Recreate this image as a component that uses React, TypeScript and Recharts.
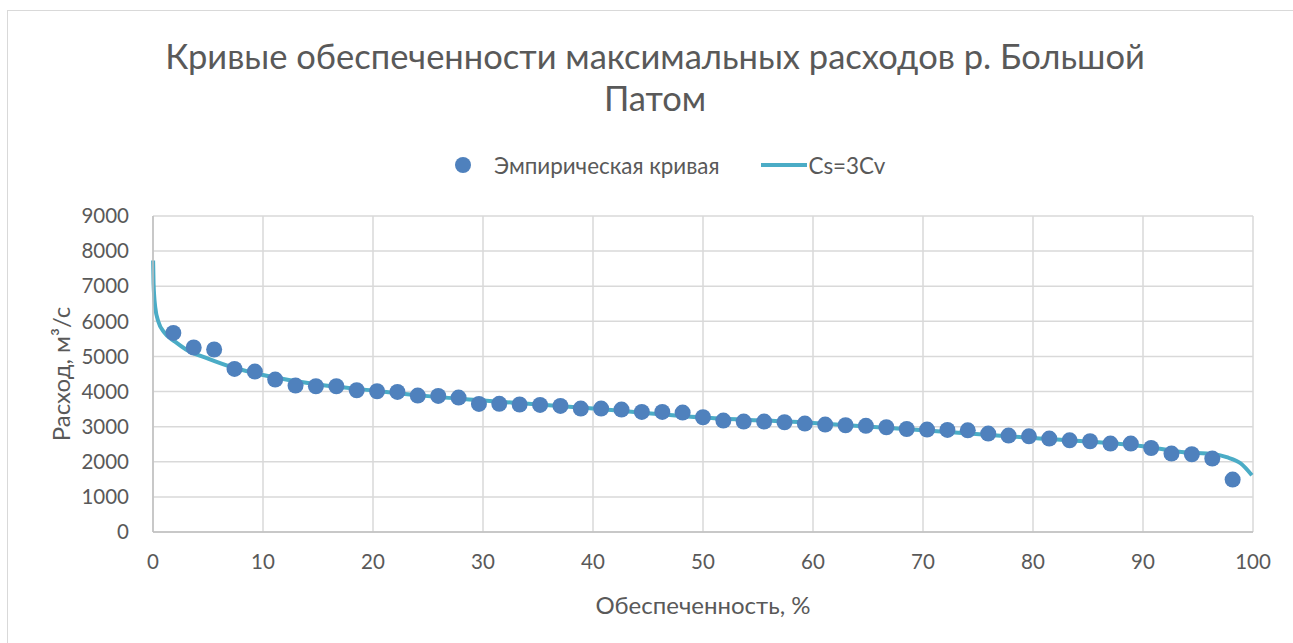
import {
  ComposedChart,
  CartesianGrid,
  Line,
  Scatter,
  XAxis,
  YAxis,
} from "recharts";

// Empirical exceedance probability, % (m / (n + 1) for n = 53)
const empiricalP = [
  1.85, 3.7, 5.56, 7.41, 9.26, 11.11, 12.96, 14.81, 16.67, 18.52, 20.37, 22.22,
  24.07, 25.93, 27.78, 29.63, 31.48, 33.33, 35.19, 37.04, 38.89, 40.74, 42.59,
  44.44, 46.3, 48.15, 50.0, 51.85, 53.7, 55.56, 57.41, 59.26, 61.11, 62.96,
  64.81, 66.67, 68.52, 70.37, 72.22, 74.07, 75.93, 77.78, 79.63, 81.48, 83.33,
  85.19, 87.04, 88.89, 90.74, 92.59, 94.44, 96.3, 98.15,
];

// Ranked annual maximum discharges, m³/s
const empiricalQ = [
  5670, 5254, 5197, 4644, 4570, 4342, 4171, 4151, 4151, 4037, 4009, 3989, 3886,
  3875, 3829, 3647, 3650, 3632, 3618, 3590, 3515, 3515, 3487, 3419, 3419, 3400,
  3268, 3174, 3145, 3145, 3125, 3088, 3060, 3040, 3025, 2983, 2934, 2917, 2906,
  2897, 2803, 2746, 2726, 2661, 2612, 2584, 2518, 2518, 2393, 2233, 2214, 2091,
  1493,
];

// Analytical curve, Cs = 3Cv
const curveP = [
  0.01, 0.05, 0.2, 0.5, 1, 2, 3, 5, 7.5, 10, 15, 20, 25, 30, 40, 50, 60, 70, 80,
  90, 93.5, 96.5, 97.6, 98.9, 99.9,
];
const curveQ = [
  7735, 7080, 6410, 5980, 5690, 5420, 5200, 4940, 4665, 4470, 4200, 4030, 3870,
  3745, 3515, 3260, 3105, 2897, 2678, 2442, 2279, 2214, 2130, 1950, 1615,
];

const xTicks = [0, 10, 20, 30, 40, 50, 60, 70, 80, 90, 100];
const yTicks = [0, 1000, 2000, 3000, 4000, 5000, 6000, 7000, 8000, 9000];

const empirical = empiricalP.map((p, i) => ({ p, q: empiricalQ[i] }));
const curve = curveP.map((p, i) => ({ p, q: curveQ[i] }));

const FONT = "Lato, 'Open Sans', sans-serif";
const TEXT = "#595959";
const DOT = "#4F81BD";
const LINE = "#4BACC6";

const Dot = (props: { cx?: number; cy?: number }) =>
  props.cx == null || props.cy == null ? null : (
    <circle cx={props.cx} cy={props.cy} r={8} fill={DOT} />
  );

export default function App() {
  return (
    <div
      style={{
        position: "absolute",
        left: 0,
        top: 0,
        width: 1293,
        height: 643,
        background: "#fff",
        overflow: "hidden",
        fontFamily: FONT,
      }}
    >
      {/* chart area frame */}
      <div
        style={{
          position: "absolute",
          left: 7,
          top: 10,
          width: 1300,
          height: 660,
          border: "1.5px solid #d9d9d9",
        }}
      />

      <div
        style={{
          position: "absolute",
          left: 0,
          top: 35,
          width: 1310,
          textAlign: "center",
          fontSize: 34.5,
          lineHeight: "42px",
          color: TEXT,
        }}
      >
        Кривые обеспеченности максимальных расходов р. Большой
        <br />
        Патом
      </div>

      {/* legend */}
      <div
        style={{
          position: "absolute",
          left: 455,
          top: 151,
          height: 28,
          display: "flex",
          alignItems: "center",
          fontSize: 22.4,
          color: TEXT,
          whiteSpace: "nowrap",
        }}
      >
        <span
          style={{
            width: 16,
            height: 16,
            borderRadius: 8,
            background: DOT,
            display: "inline-block",
          }}
        />
        <span style={{ marginLeft: 23 }}>Эмпирическая кривая</span>
        <span
          style={{
            width: 46,
            height: 4,
            background: LINE,
            display: "inline-block",
            marginLeft: 42,
          }}
        />
        <span style={{ marginLeft: 1 }}>Cs=3Cv</span>
      </div>

      <ComposedChart
        width={1293}
        height={643}
        margin={{ top: 216, right: 40, bottom: 51, left: 0 }}
        style={{ position: "absolute", left: 0, top: 0 }}
      >
        <CartesianGrid stroke="#d9d9d9" strokeWidth={1.5} />
        <XAxis
          type="number"
          dataKey="p"
          domain={[0, 100]}
          ticks={xTicks}
          interval={0}
          height={60}
          tickSize={0}
          tickMargin={22}
          axisLine={{ stroke: "#bfbfbf", strokeWidth: 1.5 }}
          tick={{ fill: TEXT, fontSize: 20.5, fontFamily: FONT }}
        />
        <YAxis
          type="number"
          dataKey="q"
          domain={[0, 9000]}
          ticks={yTicks}
          interval={0}
          width={153}
          tickSize={0}
          tickMargin={24}
          axisLine={{ stroke: "#bfbfbf", strokeWidth: 1.5 }}
          tick={{ fill: TEXT, fontSize: 20.5, fontFamily: FONT }}
        />
        <Scatter
          name="Эмпирическая кривая"
          data={empirical}
          dataKey="q"
          shape={<Dot />}
          isAnimationActive={false}
        />
        <Line
          name="Cs=3Cv"
          data={curve}
          dataKey="q"
          type="monotone"
          stroke={LINE}
          strokeWidth={4}
          dot={false}
          activeDot={false}
          isAnimationActive={false}
        />
      </ComposedChart>

      <div
        style={{
          position: "absolute",
          left: 403,
          width: 600,
          top: 589,
          textAlign: "center",
          fontSize: 24,
          lineHeight: "32px",
          color: TEXT,
        }}
      >
        Обеспеченность, %
      </div>

      <div
        style={{
          position: "absolute",
          left: 61 - 150,
          top: 374 - 16,
          width: 300,
          textAlign: "center",
          fontSize: 24,
          lineHeight: "32px",
          color: TEXT,
          transform: "rotate(-90deg)",
        }}
      >
        Расход, м³/с
      </div>
    </div>
  );
}
